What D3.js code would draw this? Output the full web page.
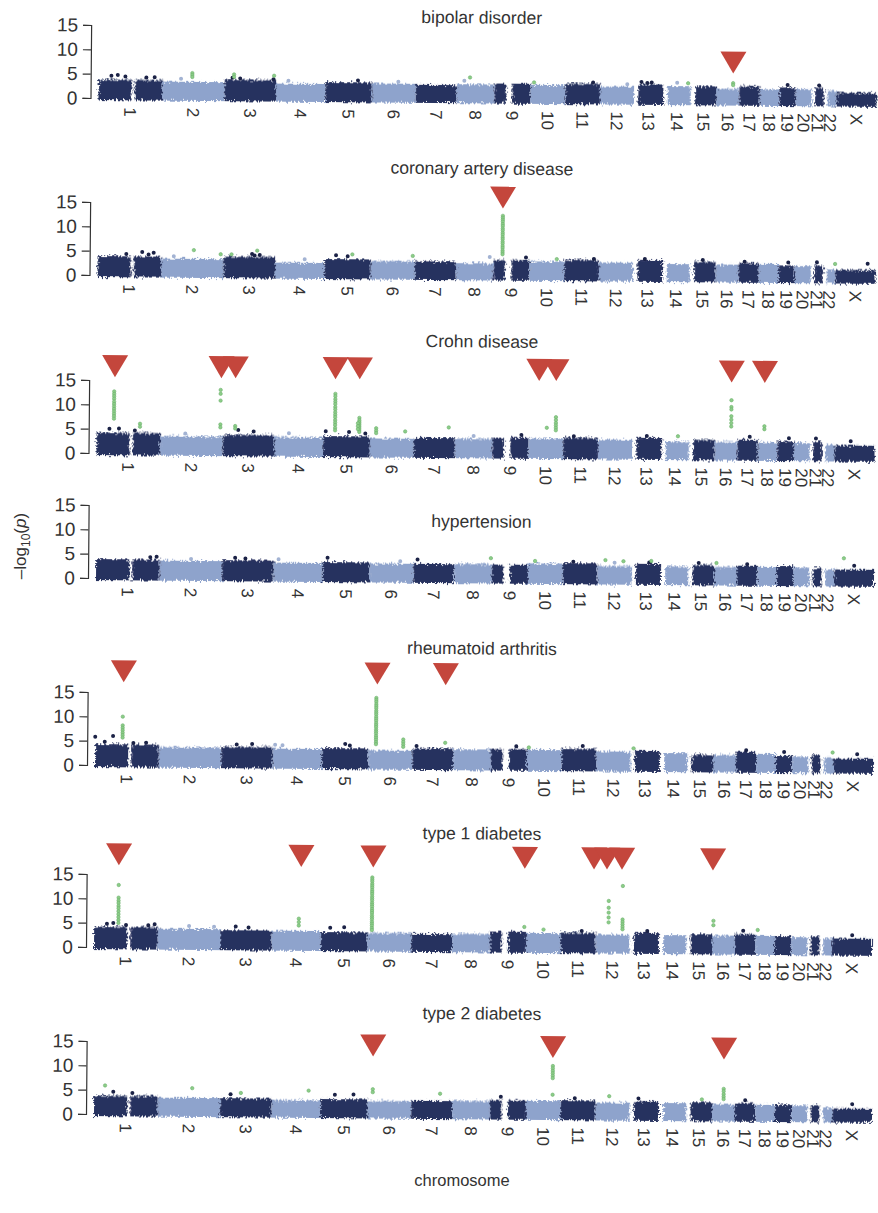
<!DOCTYPE html>
<html>
<head>
<meta charset="utf-8">
<script src="https://cdn.jsdelivr.net/npm/d3@7"></script>
<style>
  body { margin: 0; background: #fff; }
  svg { display: block; font-family: "Liberation Sans", Arial, sans-serif; }
</style>
</head>
<body>
<svg id="chart" width="878" height="1213"></svg>
<script>
// chromosomes and their lengths (Mb), used for the x axis
const chromosomes = ["1","2","3","4","5","6","7","8","9","10","11","12","13","14","15","16","17","18","19","20","21","22","X"];
const chromLengthMb = [247.2,242.8,199.5,191.3,180.9,170.9,158.8,146.3,140.3,135.4,134.5,132.3,114.1,106.4,100.3,88.8,78.8,76.1,63.8,62.4,46.9,49.7,154.9];
// stretches with no SNPs (centromere / acrocentric arms), as fraction of chromosome
const bandGaps = [["1",0.52,0.57],["9",0.32,0.5],["13",0,0.15],["14",0,0.16],["15",0,0.17],["21",0,0.28],["22",0,0.3]];

const diseases = ["bipolar disorder","coronary artery disease","Crohn disease","hypertension","rheumatoid arthritis","type 1 diabetes","type 2 diabetes"];
const yTicks = [0, 5, 10, 15];

// bulk height of the non-significant SNP cloud, per chromosome
const bandBD  = [3.8,3.5,4.0,3.3,3.7,3.5,3.3,3.5,3.7,3.5,3.8,3.3,3.8,3.5,3.5,3.0,3.6,3.0,3.4,3.1,3.4,2.8,2.4];
const bandCAD = [3.9,3.5,4.0,2.9,3.7,3.4,3.4,3.1,3.8,3.6,4.0,3.5,4.1,3.3,3.8,3.3,3.6,3.5,3.2,3.1,3.2,2.5,2.4];
const bandCD  = [4.2,3.6,4.0,3.6,3.9,3.5,3.7,3.6,3.9,3.8,4.0,3.7,4.1,3.4,3.8,3.4,3.9,3.4,3.6,3.3,3.7,3.1,2.9];
const bandHT  = [3.9,3.7,3.9,3.5,3.7,3.5,3.5,3.6,3.5,3.8,3.9,3.4,3.9,3.4,3.8,3.4,3.7,3.5,3.7,3.4,3.3,3.1,3.1];
const bandRA  = [4.3,3.8,4.0,3.7,3.9,3.5,4.0,3.9,4.0,3.9,4.2,3.7,3.9,3.5,3.2,3.2,3.9,3.5,3.1,3.0,3.3,2.9,2.7];
const bandT1D = [4.2,3.9,3.7,3.7,3.5,3.4,3.3,3.4,3.9,3.7,3.8,3.5,3.9,3.5,3.7,3.5,3.8,3.5,3.5,3.3,3.5,3.1,3.1];
const bandT2D = [3.8,3.5,3.5,3.2,3.5,3.2,3.3,3.4,3.6,3.5,3.7,3.3,3.6,3.3,3.5,3.1,3.4,3.1,3.2,3.0,3.1,2.7,2.5];

// scattered SNPs above the cloud: [chromosome, fraction along it, -log10 p]
const peaksBD  = [["1",0.2,4.6],["1",0.3,4.8],["1",0.42,4.5],["1",0.75,4.3],["1",0.88,4.4],["3",0.15,4.4],["3",0.3,4.3],["3",0.95,4.2],["5",0.7,4.1],["13",0.25,4.3],["13",0.45,4.1],["13",0.6,4.2],["11",0.8,4.1],["19",0.5,3.9],["21",0.6,3.9],["2",0.3,4.1],["4",0.25,3.9],["6",0.6,3.9],["8",0.2,4.2],["12",0.8,3.8],["14",0.5,4.2]];
const peaksCAD = [["1",0.45,4.4],["1",0.88,4.7],["1",0.7,4.8],["1",0.8,4.3],["3",0.55,4.6],["3",0.6,4.3],["3",0.7,4.4],["5",0.25,4.5],["5",0.5,4.3],["11",0.85,4.2],["13",0.4,4.3],["15",0.5,4.2],["17",0.3,3.9],["19",0.6,3.8],["21",0.5,3.9],["9",0.9,4.4],["X",0.8,3.7],["2",0.2,4.0],["4",0.6,3.6],["8",0.9,4.4]];
const peaksCD  = [["1",0.2,5.0],["1",0.35,5.1],["1",0.6,4.7],["3",0.3,5.0],["3",0.6,4.7],["5",0.05,4.9],["5",0.55,4.8],["5",0.9,4.5],["11",0.3,4.3],["13",0.5,4.5],["17",0.6,4.5],["19",0.7,4.3],["21",0.5,4.3],["X",0.4,3.8],["2",0.4,4.2],["4",0.3,4.4],["8",0.5,4.2],["9",0.8,4.5]];
const peaksHT  = [["1",0.85,4.4],["1",0.95,4.5],["3",0.25,4.4],["3",0.45,4.3],["5",0.1,4.6],["7",0.1,4.4],["11",0.3,4.2],["13",0.6,4.2],["15",0.4,4.2],["17",0.5,4.0],["X",0.5,3.9],["2",0.5,4.1],["4",0.1,4.2],["6",0.7,4.0],["12",0.5,4.1]];
const peaksRA  = [["1",0.0,5.8],["1",0.28,6.0],["1",0.15,4.8],["1",0.6,4.6],["1",0.8,4.7],["3",0.3,4.5],["3",0.6,4.6],["5",0.5,4.8],["5",0.6,4.5],["4",0.05,4.5],["4",0.2,4.4],["11",0.6,4.8],["9",0.7,4.6],["17",0.5,4.2],["19",0.5,3.9],["7",0.1,4.5],["X",0.6,3.6]];
const peaksT1D = [["1",0.2,4.8],["1",0.3,5.0],["1",0.5,4.6],["1",0.85,4.6],["1",0.95,4.8],["3",0.3,4.5],["3",0.55,4.3],["5",0.2,4.4],["5",0.5,4.5],["2",0.5,4.5],["2",0.9,4.4],["13",0.6,4.3],["17",0.4,4.5],["X",0.5,3.8],["11",0.6,4.2]];
const peaksT2D = [["1",0.3,4.6],["1",0.6,4.4],["3",0.2,4.3],["5",0.3,4.4],["5",0.7,4.5],["11",0.4,4.1],["13",0.3,4.2],["17",0.5,4.0],["X",0.5,3.4],["9",0.3,4.3]];

// significant SNPs (green): [chromosome, fraction, list of -log10 p]
const hitsBD  = [["2",0.48,[5.3,4.9,4.5]],["3",0.18,[5.1,4.6]],["3",0.96,[4.9]],["8",0.35,[4.9]],["16",0.72,[4.2,3.8]],["14",0.9,[4.1]],["10",0.1,[4.0]]];
const hitsCAD = [["9",0.25,[12.9,12.5,12.1,11.7,11.2,10.8,10.3,9.9,9.4,9.0,8.5,8.1,7.6,7.2,6.7,6.3,5.8,5.4,5.0]],["2",0.52,[5.3]],["2",0.95,[4.5]],["3",0.65,[5.3]],["5",0.6,[4.7]],["6",0.95,[4.5]],["10",0.78,[4.1]],["22",0.95,[3.6]],["3",0.15,[4.5]]];
const hitsCD  = [["1",0.27,[12.7,12.2,11.7,11.2,10.6,10.1,9.6,9.1,8.6,8.1,7.6,7.1]],["1",0.68,[6.1,5.5]],["2",0.96,[13.2,12.4,11.0,6.1,5.5]],["3",0.24,[5.8,5.3]],
                 ["5",0.25,[12.6,12.1,11.5,11.0,10.5,9.9,9.4,8.8,8.3,7.8,7.2,6.7,6.2,5.6,5.1]],["5",0.77,[7.7,7.2,6.8,6.4,6.0,5.6,5.2,4.8]],["5",0.74,[6.6,6.0,5.4]],
                 ["6",0.14,[5.6,5.1,4.6]],["6",0.8,[5.0]],["7",0.85,[5.9]],["10",0.78,[8.2,7.6,7.0,6.5,6.0,5.5]],["10",0.52,[6.0]],["16",0.72,[12.0,10.6,10.1,8.7,8.0,7.3,6.6]],["18",0.33,[6.7,6.1]],["14",0.6,[4.5]]];
const hitsHT  = [["8",0.97,[4.8]],["12",0.23,[4.6]],["12",0.76,[4.4]],["13",0.67,[4.5]],["16",0.1,[4.2]],["X",0.24,[5.4]],["10",0.2,[4.3]]];
const hitsRA  = [["1",0.43,[10.0,8.2,7.7,7.2,6.7,6.2,5.7]],
                 ["6",0.17,[14.3,13.9,13.5,13.0,12.6,12.2,11.7,11.3,10.9,10.4,10.0,9.6,9.1,8.7,8.3,7.8,7.4,7.0,6.5,6.1,5.7,5.2,4.8]],
                 ["6",0.79,[5.8,5.3,4.8,4.3]],["7",0.8,[5.2]],["10",0.05,[4.4]],["22",0.95,[3.9]],["13",0.1,[4.4]]];
const hitsT1D = [["1",0.38,[12.8,10.2,9.6,9.1,8.5,8.0,7.4,6.8,6.2,5.6,5.0]],["4",0.55,[6.2,5.5,4.8]],
                 ["6",0.1,[14.8,14.4,14.0,13.5,13.1,12.7,12.2,11.8,11.4,10.9,10.5,10.1,9.6,9.2,8.8,8.3,7.9,7.5,7.0,6.6,6.2,5.7,5.3,4.9,4.4,4.0]],
                 ["12",0.38,[10.4,9.0,8.0,7.0,6.0]],["12",0.79,[13.5,6.6,6.1,5.6,5.1,4.6]],["16",0.05,[6.5,5.6]],["18",0.12,[4.7]],["9",0.95,[4.9]],["10",0.5,[4.4]]];
const hitsT2D = [["10",0.76,[10.7,10.2,9.7,9.2,8.7,8.2,4.8]],["16",0.5,[6.3,5.8,5.2,4.7,4.2]],["6",0.12,[5.6,5.0]],["1",0.17,[5.9]],["2",0.55,[5.5]],["4",0.75,[5.2]],["7",0.7,[4.8]],["12",0.4,[4.6]],["15",0.6,[4.1]],["3",0.4,[4.6]]];

// red markers for replicated associations: [chromosome, fraction]
const markBD  = [["16",0.72]];
const markCAD = [["9",0.25]];
const markCD  = [["1",0.28],["2",0.97],["3",0.24],["5",0.25],["5",0.77],["10",0.29],["10",0.78],["16",0.72],["18",0.33]];
const markHT  = [];
const markRA  = [["1",0.44],["6",0.19],["7",0.8]];
const markT1D = [["1",0.38],["4",0.59],["6",0.12],["9",0.95],["11",0.94],["12",0.32],["12",0.76],["16",0.01]];
const markT2D = [["6",0.12],["10",0.76],["16",0.5]];

const panelData = [
  { band: bandBD,  peaks: peaksBD,  hits: hitsBD,  marks: markBD },
  { band: bandCAD, peaks: peaksCAD, hits: hitsCAD, marks: markCAD },
  { band: bandCD,  peaks: peaksCD,  hits: hitsCD,  marks: markCD },
  { band: bandHT,  peaks: peaksHT,  hits: hitsHT,  marks: markHT },
  { band: bandRA,  peaks: peaksRA,  hits: hitsRA,  marks: markRA },
  { band: bandT1D, peaks: peaksT1D, hits: hitsT1D, marks: markT1D },
  { band: bandT2D, peaks: peaksT2D, hits: hitsT2D, marks: markT2D }
];

// page layout (pixels): zero line, title baseline, axis x, marker apex height above zero
const layout = [
  { zero: 98,   title: 20,   axisX: 90.5, markUp: 30 },
  { zero: 275,  title: 171,  axisX: 89.5, markUp: 70 },
  { zero: 453,  title: 344,  axisX: 88.5, markUp: 76 },
  { zero: 578,  title: 524,  axisX: 88,   markUp: 0 },
  { zero: 765,  title: 651,  axisX: 87,   markUp: 83 },
  { zero: 947,  title: 836,  axisX: 86,   markUp: 82 },
  { zero: 1114, title: 1016, axisX: 86,   markUp: 60 }
];

const dark = "#27305e", light = "#8ea3cc";
const darkDot = "#1b2246", lightDot = "#a3b3d3";
const green = "#8ccd88", red = "#c4463c";
const tilt = 0.5;

const svg = d3.select("#chart");
svg.append("rect").attr("width", 878).attr("height", 1213).attr("fill", "#fff");

// ragged edge for the dense SNP clouds
const defs = svg.append("defs");
const rough = defs.append("filter").attr("id", "rough")
  .attr("x", "-2%").attr("y", "-30%").attr("width", "104%").attr("height", "160%");
rough.append("feTurbulence").attr("type", "fractalNoise").attr("baseFrequency", "0.55")
  .attr("numOctaves", 2).attr("seed", 4).attr("result", "noise");
rough.append("feDisplacementMap").attr("in", "SourceGraphic").attr("in2", "noise")
  .attr("scale", 7).attr("xChannelSelector", "R").attr("yChannelSelector", "G");

const totalMb = d3.sum(chromLengthMb);
const chromStart = [0, ...d3.cumsum(chromLengthMb)].slice(0, chromosomes.length);
const idx = c => chromosomes.indexOf(c);
const colorOf = c => idx(c) % 2 === 0 ? dark : light;

panelData.forEach((pd, i) => {
  const L = layout[i];
  const x = d3.scaleLinear().domain([0, totalMb]).range([L.axisX + 8, L.axisX + 786]);
  const y = d3.scaleLinear().domain([0, 15]).range([L.zero, L.zero - 73]);
  const pos = (c, f) => x(chromStart[idx(c)] + f * chromLengthMb[idx(c)]);

  const g = svg.append("g")
    .attr("transform", `rotate(${tilt},${L.axisX},${L.zero})`);

  // title
  g.append("text")
    .attr("x", 481).attr("y", L.title)
    .attr("text-anchor", "middle")
    .attr("font-size", 17.5).attr("fill", "#333")
    .text(diseases[i]);

  // SNP cloud per chromosome, split around empty stretches
  const segs = [];
  chromosomes.forEach((c, k) => {
    let pieces = [[0, 1]];
    bandGaps.filter(gp => gp[0] === c).forEach(gp => {
      pieces = pieces.flatMap(([a, b]) => {
        const out = [];
        if (gp[1] > a) out.push([a, Math.min(b, gp[1])]);
        if (gp[2] < b) out.push([Math.max(a, gp[2]), b]);
        return out;
      });
    });
    pieces.forEach(([a, b]) => segs.push({ c, a, b, h: pd.band[k] }));
  });

  g.append("g").attr("filter", "url(#rough)")
    .selectAll("rect").data(segs).enter().append("rect")
    .attr("x", d => pos(d.c, d.a))
    .attr("width", d => pos(d.c, d.b) - pos(d.c, d.a))
    .attr("y", d => y(d.h))
    .attr("height", d => y(0) - y(d.h) + 2)
    .attr("fill", d => colorOf(d.c));

  // scattered tops
  g.append("g").selectAll("circle").data(pd.peaks).enter().append("circle")
    .attr("cx", d => pos(d[0], d[1]))
    .attr("cy", d => y(d[2]))
    .attr("r", 2)
    .attr("fill", d => idx(d[0]) % 2 === 0 ? darkDot : lightDot);

  // significant hits
  const hitPts = pd.hits.flatMap(h => h[2].map(v => ({ c: h[0], f: h[1], v })));
  g.append("g").selectAll("circle").data(hitPts).enter().append("circle")
    .attr("cx", d => pos(d.c, d.f))
    .attr("cy", d => y(d.v))
    .attr("r", 1.7)
    .attr("fill", green)
    .attr("stroke", "#6db06d").attr("stroke-width", 0.6);

  // markers
  g.append("g").selectAll("path").data(pd.marks).enter().append("path")
    .attr("d", d => {
      const cx = pos(d[0], d[1]), ay = L.zero - L.markUp;
      return `M${cx - 13},${ay - 22}L${cx + 13},${ay - 22}L${cx},${ay}Z`;
    })
    .attr("fill", red);

  // y axis
  const ax = g.append("g")
    .attr("transform", `translate(${L.axisX},0)`)
    .call(d3.axisLeft(y).tickValues(yTicks).tickSize(8).tickPadding(5));
  ax.select(".domain").attr("stroke", "#333").attr("stroke-width", 1.2);
  ax.selectAll(".tick line").attr("stroke", "#333").attr("stroke-width", 1.2);
  ax.selectAll(".tick text").attr("font-size", 19).attr("fill", "#333")
    .attr("font-family", "\"Liberation Sans\", Arial, sans-serif");

  // chromosome labels, turned a quarter clockwise
  g.append("g").selectAll("text").data(chromosomes).enter().append("text")
    .attr("transform", (c, k) => {
      const cx = x(chromStart[k] + chromLengthMb[k] / 2);
      return `matrix(0,1,-1,0,${cx},${L.zero + 9})`;
    })
    .attr("x", 0).attr("y", 0)
    .attr("dy", "0.35em")
    .attr("font-size", 17).attr("fill", "#333")
    .text(c => c);
});

// axis titles
const yl = svg.append("text")
  .attr("transform", "translate(26,546) rotate(-90)")
  .attr("text-anchor", "middle")
  .attr("font-size", 17).attr("fill", "#333");
yl.append("tspan").text("\u2013log");
yl.append("tspan").attr("font-size", 12).attr("dy", 4).text("10");
yl.append("tspan").attr("dy", -4).text("(");
yl.append("tspan").attr("font-style", "italic").text("p");
yl.append("tspan").text(")");

svg.append("text")
  .attr("x", 462).attr("y", 1186)
  .attr("text-anchor", "middle")
  .attr("font-size", 16.5).attr("fill", "#333")
  .text("chromosome");
</script>
</body>
</html>
